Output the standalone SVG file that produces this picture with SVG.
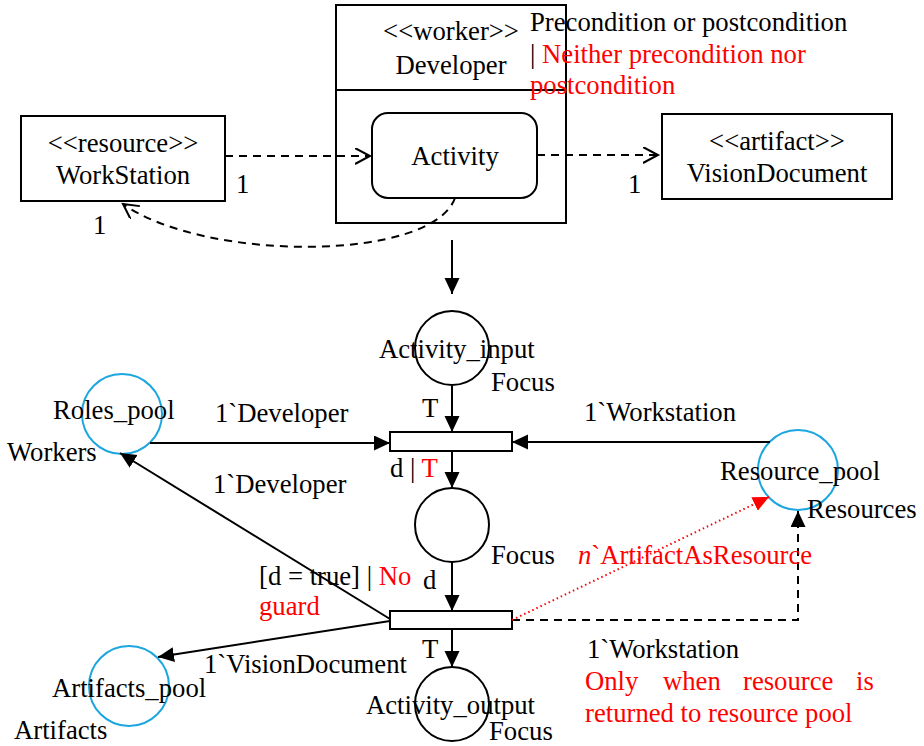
<svg xmlns="http://www.w3.org/2000/svg" width="924" height="746" viewBox="0 0 924 746">
  <style>
    text { font-family: "Liberation Serif", "Times New Roman", serif; font-size: 26.7px; fill: #000; }
    .red { fill: #ff0000; }
    .mid { text-anchor: middle; }
    .box { fill: #fff; stroke: #000; stroke-width: 2; }
    .place { fill: none; stroke: #000; stroke-width: 2; }
    .pool { fill: none; stroke: #1ca6e0; stroke-width: 2; }
    .arc { fill: none; stroke: #000; stroke-width: 2; }
    .dash { fill: none; stroke: #000; stroke-width: 2; stroke-dasharray: 8 6; }
    .dot { fill: none; stroke: #ff0000; stroke-width: 2; stroke-dasharray: 1.5 3; }
  </style>
  <defs>
    <marker id="head" markerUnits="userSpaceOnUse" markerWidth="17" markerHeight="16" refX="16" refY="7.5" orient="auto">
      <path d="M0,0 L16,7.5 L0,15 z" fill="#000"/>
    </marker>
    <marker id="headRed" markerUnits="userSpaceOnUse" markerWidth="17" markerHeight="16" refX="16" refY="7.5" orient="auto">
      <path d="M0,0 L16,7.5 L0,15 z" fill="#ff0000"/>
    </marker>
    <marker id="open" markerUnits="userSpaceOnUse" markerWidth="18" markerHeight="18" refX="15" refY="8" orient="auto">
      <path d="M0,0 L15,8 L0,16" fill="none" stroke="#000" stroke-width="2"/>
    </marker>
  </defs>

  <!-- UML part -->
  <g id="developer">
    <rect class="box" x="336" y="5" width="230" height="218"/>
    <line x1="336" y1="90" x2="566" y2="90" stroke="#000" stroke-width="2"/>
    <text class="mid" x="451" y="40">&lt;&lt;worker&gt;&gt;</text>
    <text class="mid" x="451" y="74">Developer</text>
  </g>
  <g id="activity">
    <rect class="box" x="372" y="113" width="165" height="85" rx="16"/>
    <text class="mid" x="455" y="165">Activity</text>
  </g>
  <g id="workstation">
    <rect class="box" x="21" y="116" width="204" height="85"/>
    <text class="mid" x="123" y="152">&lt;&lt;resource&gt;&gt;</text>
    <text class="mid" x="123" y="184">WorkStation</text>
  </g>
  <g id="visiondocument">
    <rect class="box" x="662" y="114" width="230" height="85"/>
    <text class="mid" x="777" y="150">&lt;&lt;artifact&gt;&gt;</text>
    <text class="mid" x="777" y="182">VisionDocument</text>
  </g>
  <g id="condition-note">
    <text x="530" y="31">Precondition or postcondition</text>
    <text x="530" y="63">| <tspan class="red">Neither precondition nor</tspan></text>
    <text class="red" x="530" y="94">postcondition</text>
  </g>

  <!-- Petri net part -->
  <g id="activity_input">
    <circle class="place" cx="452" cy="348" r="37"/>
    <text x="379" y="358">Activity_input</text>
    <text x="491" y="391">Focus</text>
  </g>
  <g id="t1">
    <rect class="box" x="390" y="432" width="122" height="19"/>
  </g>
  <g id="focus">
    <circle class="place" cx="452" cy="525" r="37"/>
    <text x="491" y="564">Focus</text>
  </g>
  <g id="t2">
    <rect class="box" x="390" y="611" width="122" height="18"/>
  </g>
  <g id="activity_output">
    <circle class="place" cx="452" cy="704" r="37"/>
    <text x="366" y="714">Activity_output</text>
    <text x="489" y="740">Focus</text>
  </g>
  <g id="roles_pool">
    <circle class="pool" cx="122" cy="414" r="40"/>
    <text x="53" y="419">Roles_pool</text>
    <text x="7" y="461">Workers</text>
  </g>
  <g id="resource_pool">
    <circle class="pool" cx="798" cy="470" r="40"/>
    <text x="720" y="480">Resource_pool</text>
    <text x="807" y="518">Resources</text>
  </g>
  <g id="artifacts_pool">
    <circle class="pool" cx="129" cy="686" r="40"/>
    <text x="52" y="697">Artifacts_pool</text>
    <text x="14" y="739">Artifacts</text>
  </g>

  <!-- connectors -->
  <g id="connectors">
    <line class="dash" x1="225" y1="156" x2="370" y2="156" marker-end="url(#open)"/>
    <line class="dash" x1="537" y1="155" x2="658" y2="155" marker-end="url(#open)"/>
    <path class="dash" d="M455,198 C432,262 205,262 123,204" marker-end="url(#open)"/>
    <line class="arc" x1="452" y1="240" x2="452" y2="294" marker-end="url(#head)"/>

    <line class="arc" x1="452" y1="386" x2="452" y2="432" marker-end="url(#head)"/>
    <line class="arc" x1="150" y1="443" x2="390" y2="443" marker-end="url(#head)"/>
    <line class="arc" x1="770" y1="442" x2="512" y2="442" marker-end="url(#head)"/>
    <line class="arc" x1="452" y1="451" x2="452" y2="488" marker-end="url(#head)"/>
    <line class="arc" x1="452" y1="562" x2="452" y2="611" marker-end="url(#head)"/>
    <line class="arc" x1="452" y1="629" x2="452" y2="667" marker-end="url(#head)"/>
    <line class="arc" x1="390" y1="619" x2="120" y2="453" marker-end="url(#head)"/>
    <line class="arc" x1="390" y1="621" x2="158" y2="657" marker-end="url(#head)"/>
    <path class="dash" d="M512,620 H798 V511" marker-end="url(#head)"/>
    <line class="dot" x1="512" y1="620" x2="769" y2="497" marker-end="url(#headRed)"/>

    <!-- multiplicities and inscriptions -->
    <text x="236" y="193">1</text>
    <text x="93" y="234">1</text>
    <text x="628" y="193">1</text>
    <text x="422" y="417">T</text>
    <text x="215" y="422">1`Developer</text>
    <text x="584" y="421">1`Workstation</text>
    <text x="390" y="477">d | <tspan class="red">T</tspan></text>
    <text x="213" y="493">1`Developer</text>
    <text x="259" y="585">[d = true] | <tspan class="red">No</tspan></text>
    <text class="red" x="259" y="615">guard</text>
    <text x="423" y="589">d</text>
    <text x="422" y="658">T</text>
    <text x="204" y="673">1`VisionDocument</text>
    <text class="red" x="578" y="564"><tspan font-style="italic">n</tspan>`ArtifactAsResource</text>
    <text x="587" y="658">1`Workstation</text>
    <text class="red" y="690"><tspan x="585">Only</tspan><tspan x="663">when</tspan><tspan x="743">resource</tspan><tspan x="856">is</tspan></text>
    <text class="red" x="585" y="722">returned to resource pool</text>
  </g>
</svg>
